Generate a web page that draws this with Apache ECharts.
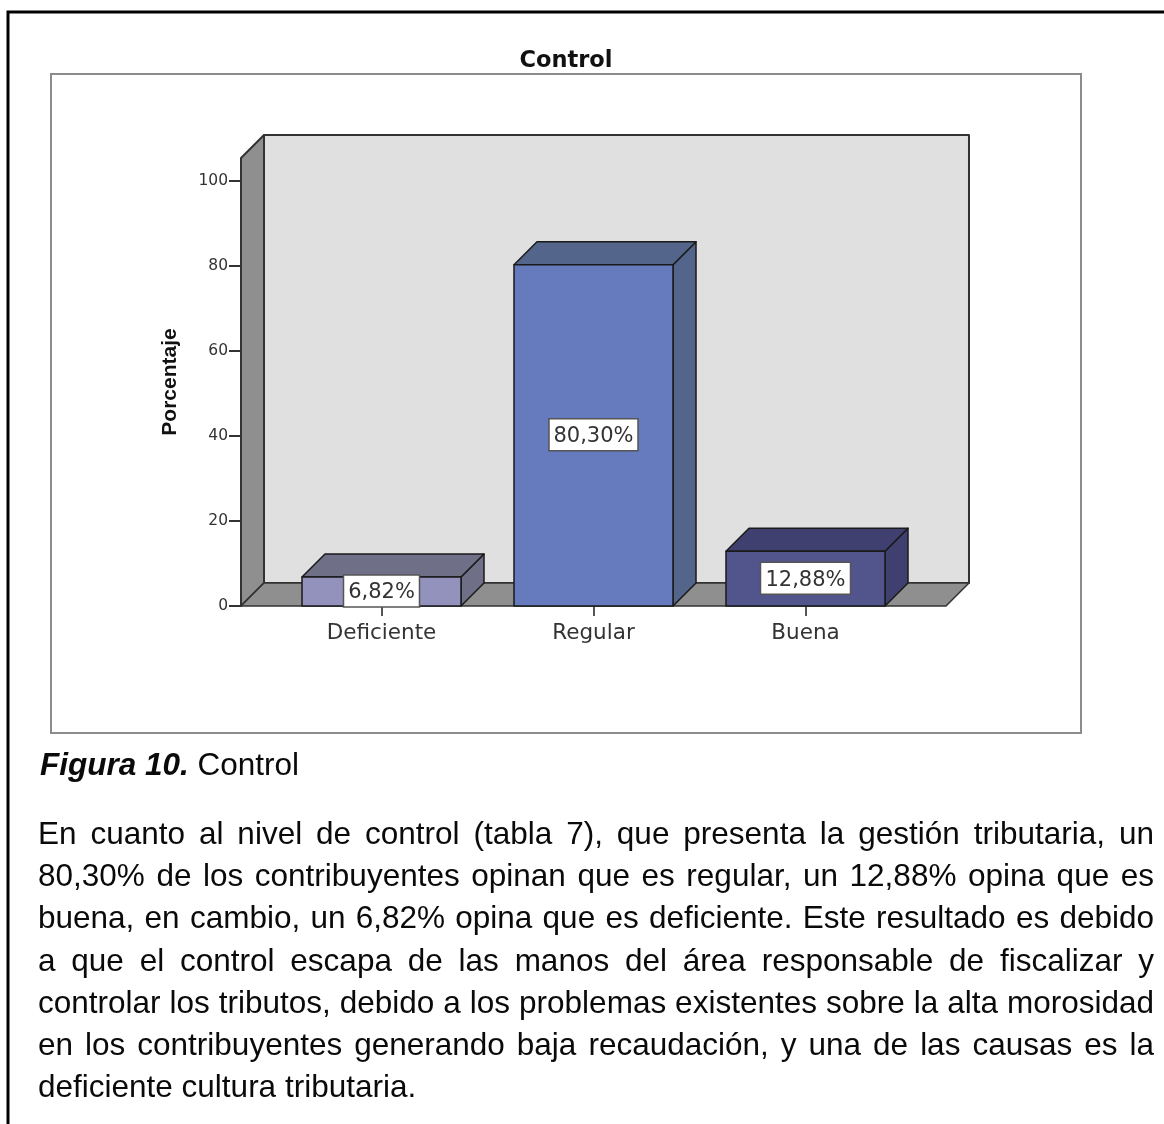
<!DOCTYPE html>
<html><head><meta charset="utf-8">
<script src="https://cdn.jsdelivr.net/npm/echarts@6/dist/echarts.min.js"></script>
<style>
html,body{margin:0;padding:0;background:#fff;overflow:hidden}
#wrap{position:relative;width:1164px;height:1124px}
#chart{position:absolute;left:0;top:0;width:1164px;height:1124px}
.t{position:absolute;left:38px;width:1116px;height:42px;line-height:42px;font-family:"Liberation Sans",Arial,sans-serif;font-size:31.5px;color:#0a0a0a;white-space:nowrap;text-align:justify;text-align-last:justify}
.l{text-align-last:left}
</style></head><body>
<div id="wrap"><div id="chart"></div><div id="text"></div></div>
<script>
const categories = ['Deficiente', 'Regular', 'Buena'];
const percentages = [6.82, 80.30, 12.88];
const yTicks = [0, 20, 40, 60, 80, 100];
const frontColors = ['#9292BC', '#667BBD', '#52558C'];
const topColors = ['#6F6F88', '#53658A', '#3F4070'];
const sideColors = ['#6F6F88', '#53658A', '#3F4070'];
const chartTitle = 'Control';
const yName = 'Porcentaje';
const captionBold = 'Figura 10.';
const captionRest = ' Control';
const paragraph = [
  'En cuanto al nivel de control (tabla 7), que presenta la gestión tributaria, un',
  '80,30% de los contribuyentes opinan que es regular, un 12,88% opina que es',
  'buena, en cambio, un 6,82% opina que es deficiente. Este resultado es debido',
  'a que el control escapa de las manos del área responsable de fiscalizar y',
  'controlar los tributos, debido a los problemas existentes sobre la alta morosidad',
  'en los contribuyentes generando baja recaudación, y una de las causas es la',
  'deficiente cultura tributaria.'
];

const DEPTH = 23, EDGE = '#1a1a1a', WALL = '#8F8F8F', BACK = '#E0E0E0';
const poly = (points, fill, stroke, lw) => ({
  type: 'polygon', shape: { points },
  style: { fill, stroke: stroke || EDGE, lineWidth: lw || 1.5, lineJoin: 'round' }
});

function renderWalls(params, api) {
  const step = api.size([1, 0])[0];
  const first = api.coord([0, 0]);
  const last = api.coord([categories.length - 1, 0]);
  const topY = api.coord([0, 105.4])[1];
  const L = first[0] - step * 0.6627, R = last[0] + step * 0.6627, B = first[1];
  return { type: 'group', children: [
    poly([[L + DEPTH, topY - DEPTH], [R + DEPTH, topY - DEPTH], [R + DEPTH, B - DEPTH], [L + DEPTH, B - DEPTH]], BACK, '#333', 2),
    poly([[L, topY], [L + DEPTH, topY - DEPTH], [L + DEPTH, B - DEPTH], [L, B]], WALL, '#333', 2),
    poly([[L, B], [L + DEPTH, B - DEPTH], [R + DEPTH, B - DEPTH], [R, B]], WALL, '#333', 1.5)
  ] };
}

function renderBar(params, api) {
  const i = api.value(0), v = api.value(1);
  const base = api.coord([i, 0]), top = api.coord([i, v]);
  const hw = api.size([1, 0])[0] * 0.375;
  const x0 = base[0] - hw, x1 = base[0] + hw, yB = base[1], yT = top[1];
  const labelText = v.toFixed(2).replace('.', ',') + '%';
  const boxW = params.dataIndex === 1 ? 89 : (params.dataIndex === 2 ? 90 : 76);
  const boxH = 32, my = (yB + yT) / 2 - 0.5;
  return { type: 'group', children: [
    poly([[x1, yB], [x1 + DEPTH, yB - DEPTH], [x1 + DEPTH, yT - DEPTH], [x1, yT]], sideColors[i]),
    poly([[x0, yT], [x0 + DEPTH, yT - DEPTH], [x1 + DEPTH, yT - DEPTH], [x1, yT]], topColors[i]),
    poly([[x0, yT], [x1, yT], [x1, yB], [x0, yB]], frontColors[i]),
    { type: 'rect', shape: { x: base[0] - boxW / 2, y: my - boxH / 2, width: boxW, height: boxH },
      style: { fill: '#fff', stroke: '#555', lineWidth: 1.5 } },
    { type: 'text', style: { x: base[0], y: my + 2, text: labelText, fill: '#333',
      font: '21px "DejaVu Sans"', align: 'center', verticalAlign: 'middle' } }
  ] };
}

const chart = echarts.init(document.getElementById('chart'), null, { renderer: 'canvas' });
chart.setOption({
  animation: false,
  backgroundColor: '#fff',
  title: { text: chartTitle, left: 561, top: 45, textAlign: 'center',
    textStyle: { fontFamily: 'DejaVu Sans', fontWeight: 'bold', fontSize: 22.5, color: '#111' } },
  grid: { left: 275.5, width: 636, top: 158, height: 448, containLabel: false },
  xAxis: { type: 'category', data: categories,
    axisLine: { show: false },
    axisTick: { show: true, alignWithLabel: true, length: 10, lineStyle: { color: '#555', width: 2 } },
    axisLabel: { fontFamily: 'DejaVu Sans', fontSize: 21.5, color: '#333', margin: 16 } },
  yAxis: { type: 'value', min: 0, max: 105.4, offset: 34.5,
    name: yName, nameLocation: 'middle', nameGap: 60, nameRotate: 90,
    nameTextStyle: { fontFamily: 'Liberation Sans', fontWeight: 'bold', fontSize: 21, color: '#111' },
    splitLine: { show: false },
    axisLine: { show: false },
    axisTick: { show: true, length: 12, customValues: yTicks, lineStyle: { color: '#333', width: 2 } },
    axisLabel: { customValues: yTicks, fontFamily: 'DejaVu Sans', fontSize: 15.5, color: '#333', margin: 13 } },
  graphic: [
    { type: 'rect', z: -1, shape: { x: 51, y: 74, width: 1030, height: 659 },
      style: { fill: '#fff', stroke: '#8C8C8C', lineWidth: 2 } },
    { type: 'polyline', z: -1, shape: { points: [[8, 1124], [8, 12], [1164, 12]] },
      style: { fill: 'none', stroke: '#000', lineWidth: 3 } }
  ],
  series: [
    { type: 'custom', z: 1, coordinateSystem: 'cartesian2d', silent: true,
      renderItem: renderWalls, data: [[0, 0]], encode: { x: 0, y: 1 } },
    { type: 'custom', z: 2, coordinateSystem: 'cartesian2d', silent: true,
      renderItem: renderBar, data: percentages.map((v, i) => [i, v]), encode: { x: 0, y: 1 } }
  ]
});

const host = document.getElementById('text');
const cap = document.createElement('div');
cap.className = 't l';
cap.style.top = (775 - 32) + 'px';
cap.style.left = '40px';
const bi = document.createElement('b');
bi.style.fontStyle = 'italic';
bi.textContent = captionBold;
cap.appendChild(bi);
cap.appendChild(document.createTextNode(captionRest));
host.appendChild(cap);
paragraph.forEach((line, i) => {
  const d = document.createElement('div');
  d.className = 't' + (i === paragraph.length - 1 ? ' l' : '');
  d.style.top = (844 + i * 42.17 - 32) + 'px';
  d.textContent = line;
  host.appendChild(d);
});
</script>
</body></html>
